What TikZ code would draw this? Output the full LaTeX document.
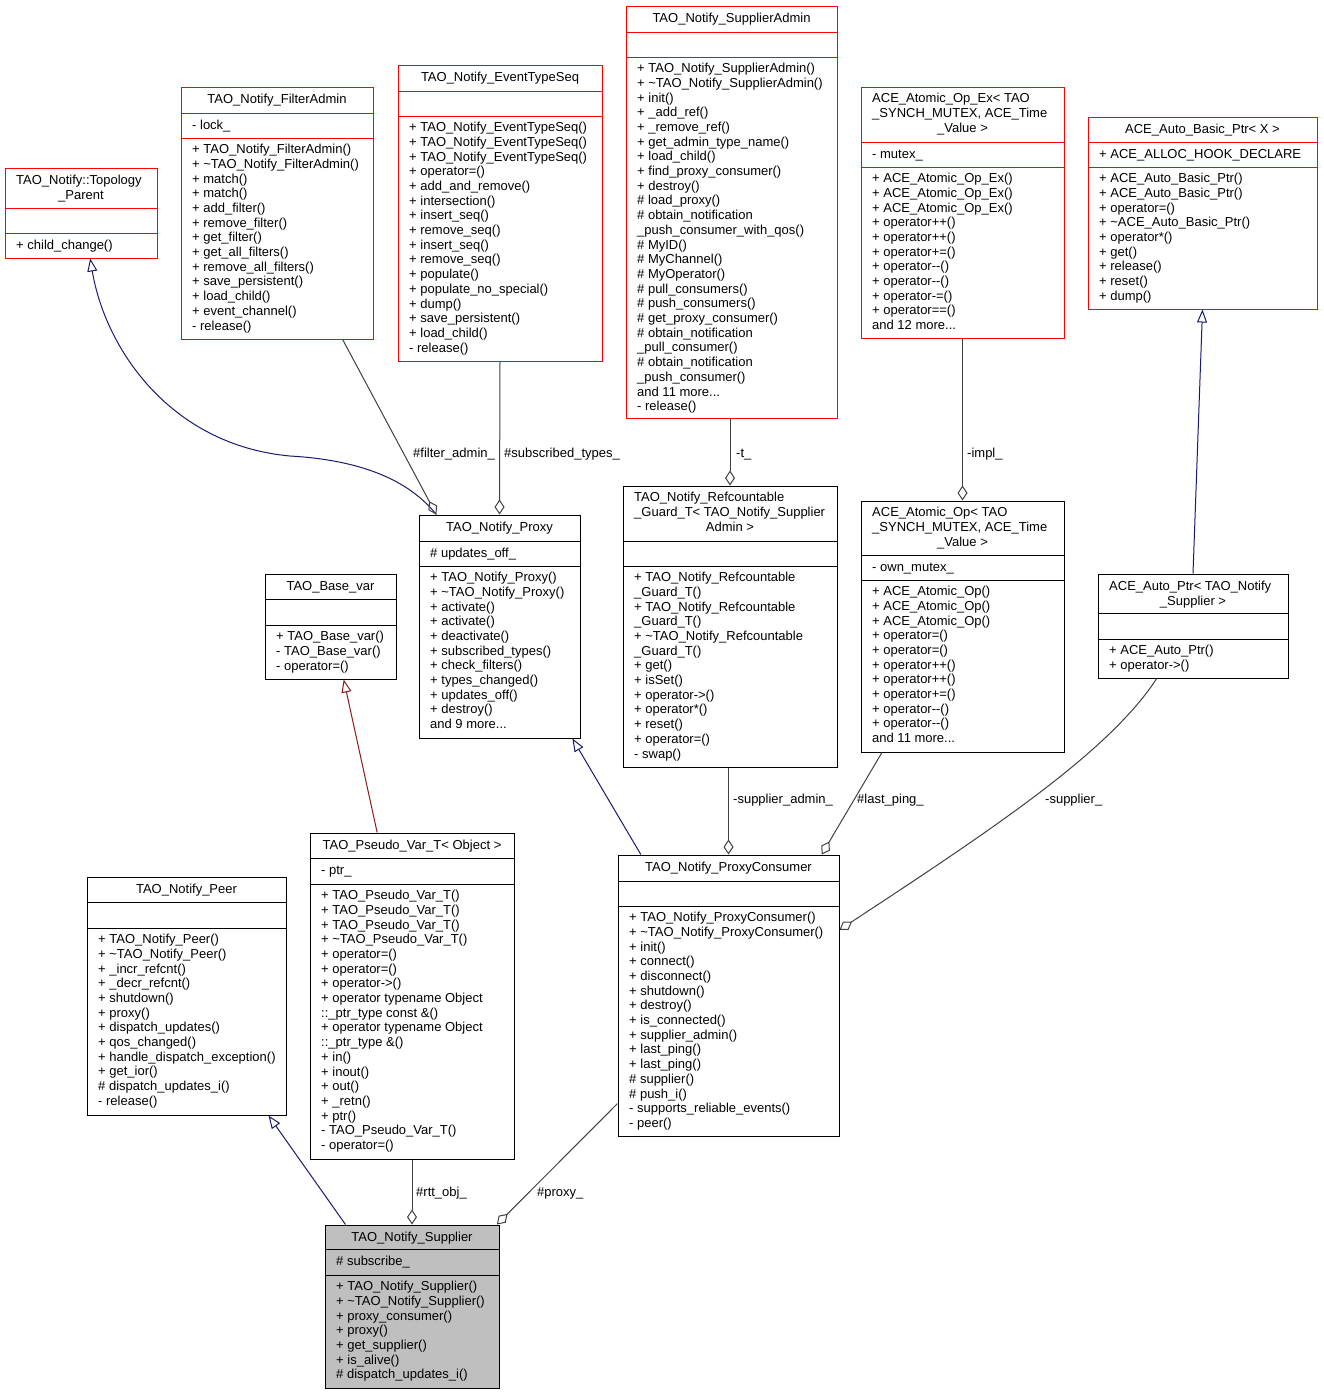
\documentclass[tikz,border=0pt]{standalone}
\usepackage{fontspec}
\setmainfont{Liberation Sans}
\usetikzlibrary{arrows.meta,calc,fit}
\definecolor{use-gray}{RGB}{64,64,64}
\definecolor{isa-blue}{RGB}{25,25,112}
\definecolor{priv-red}{RGB}{139,26,26}
\definecolor{current-gray}{RGB}{191,191,191}
\newcommand{\tildech}{\textasciitilde}
\tikzset{
	redbox/.style={draw=red, fill=white, line width=1pt},
	plainbox/.style={draw=black, fill=white, line width=1pt},
	currentbox/.style={draw=black, fill=current-gray, line width=1pt},
	cls/.style={font=\fontsize{13}{14.7}\selectfont, inner sep=0pt, align=left, anchor=north west, execute at begin node=\strut},
	ttl/.style={font=\fontsize{13}{14.7}\selectfont, inner sep=0pt, anchor=base},
	lbl/.style={font=\fontsize{13}{14.7}\selectfont, inner sep=0pt, anchor=base west},
	uses/.style={draw=use-gray, line width=1pt, -{Diamond[open, length=15pt, width=10pt]}},
	isa/.style={draw=isa-blue, line width=1pt, -{Triangle[open, length=13pt, width=10pt]}},
	isapriv/.style={draw=priv-red, line width=1pt, -{Triangle[open, length=13pt, width=10pt]}}
}
% box: style, name, left, right, top, first rule, second rule, bottom
\newcommand{\classBox}[8]{
	\node[fit={(#3,#5) (#4,#8)}, inner sep=0pt, #1] (#2) {};
	\draw[#1] (#3,#6) -- (#4,#6);
	\draw[#1] (#3,#7) -- (#4,#7);
	\coordinate (#2-t) at ({(#3+#4)/2},{#5+16.3});
	\coordinate (#2-tl) at ({#3+11},{#5+6});
	\coordinate (#2-a) at ({#3+11},{#6+6});
	\coordinate (#2-m) at ({#3+11},{#7+6});
}

\begin{document}
\begin{tikzpicture}[x=1pt, y=-1pt]
	\useasboundingbox (0,0) rectangle (1323,1395);
	% top row
	\classBox{redbox}{topo}{5}{157}{168}{208}{233}{258}
	\node[cls] (topo-ttl) at (topo-tl) {TAO\_Notify::Topology};
	\node[ttl] (topo-ttl2) at ($(topo-t)+(0,14.7)$) {\_Parent};
	\node[cls] (topo-ops) at (topo-m) {+ child\_change()};

	\classBox{redbox}{fadmin}{181}{373}{87}{113}{138}{339}
	\node[ttl] (fadmin-ttl) at (fadmin-t) {TAO\_Notify\_FilterAdmin};
	\node[cls] (fadmin-att) at (fadmin-a) {- lock\_};
	\node[cls] (fadmin-ops) at (fadmin-m) {+ TAO\_Notify\_FilterAdmin()\\+ \tildech TAO\_Notify\_FilterAdmin()\\+ match()\\+ match()\\+ add\_filter()\\+ remove\_filter()\\+ get\_filter()\\+ get\_all\_filters()\\+ remove\_all\_filters()\\+ save\_persistent()\\+ load\_child()\\+ event\_channel()\\- release()};

	\classBox{redbox}{etseq}{398}{602}{65}{91}{116}{361}
	\node[ttl] (etseq-ttl) at (etseq-t) {TAO\_Notify\_EventTypeSeq};
	\node[cls] (etseq-ops) at (etseq-m) {+ TAO\_Notify\_EventTypeSeq()\\+ TAO\_Notify\_EventTypeSeq()\\+ TAO\_Notify\_EventTypeSeq()\\+ operator=()\\+ add\_and\_remove()\\+ intersection()\\+ insert\_seq()\\+ remove\_seq()\\+ insert\_seq()\\+ remove\_seq()\\+ populate()\\+ populate\_no\_special()\\+ dump()\\+ save\_persistent()\\+ load\_child()\\- release()};

	\classBox{redbox}{sadmin}{626}{837}{6}{32}{57}{418}
	\node[ttl] (sadmin-ttl) at (sadmin-t) {TAO\_Notify\_SupplierAdmin};
	\node[cls] (sadmin-ops) at (sadmin-m) {+ TAO\_Notify\_SupplierAdmin()\\+ \tildech TAO\_Notify\_SupplierAdmin()\\+ init()\\+ \_add\_ref()\\+ \_remove\_ref()\\+ get\_admin\_type\_name()\\+ load\_child()\\+ find\_proxy\_consumer()\\+ destroy()\\\# load\_proxy()\\\# obtain\_notification\\\_push\_consumer\_with\_qos()\\\# MyID()\\\# MyChannel()\\\# MyOperator()\\\# pull\_consumers()\\\# push\_consumers()\\\# get\_proxy\_consumer()\\\# obtain\_notification\\\_pull\_consumer()\\\# obtain\_notification\\\_push\_consumer()\\and 11 more...\\- release()};

	\classBox{redbox}{opex}{861}{1064}{87}{142}{167}{338}
	\node[cls] (opex-ttl) at (opex-tl) {ACE\_Atomic\_Op\_Ex< TAO\\\_SYNCH\_MUTEX, ACE\_Time};
	\node[ttl] (opex-ttl2) at ($(opex-t)+(0,29.4)$) {\_Value >};
	\node[cls] (opex-att) at (opex-a) {- mutex\_};
	\node[cls] (opex-ops) at (opex-m) {+ ACE\_Atomic\_Op\_Ex()\\+ ACE\_Atomic\_Op\_Ex()\\+ ACE\_Atomic\_Op\_Ex()\\+ operator++()\\+ operator++()\\+ operator+=()\\+ operator-{}-()\\+ operator-{}-()\\+ operator-=()\\+ operator==()\\and 12 more...};

	\classBox{redbox}{basicptr}{1088}{1317}{117}{142}{167}{309}
	\node[ttl] (basicptr-ttl) at (basicptr-t) {ACE\_Auto\_Basic\_Ptr< X >};
	\node[cls] (basicptr-att) at (basicptr-a) {+ ACE\_ALLOC\_HOOK\_DECLARE};
	\node[cls] (basicptr-ops) at (basicptr-m) {+ ACE\_Auto\_Basic\_Ptr()\\+ ACE\_Auto\_Basic\_Ptr()\\+ operator=()\\+ \tildech ACE\_Auto\_Basic\_Ptr()\\+ operator*()\\+ get()\\+ release()\\+ reset()\\+ dump()};

	% middle row
	\classBox{plainbox}{proxy}{419}{580}{515}{541}{566}{738}
	\node[ttl] (proxy-ttl) at (proxy-t) {TAO\_Notify\_Proxy};
	\node[cls] (proxy-att) at (proxy-a) {\# updates\_off\_};
	\node[cls] (proxy-ops) at (proxy-m) {+ TAO\_Notify\_Proxy()\\+ \tildech TAO\_Notify\_Proxy()\\+ activate()\\+ activate()\\+ deactivate()\\+ subscribed\_types()\\+ check\_filters()\\+ types\_changed()\\+ updates\_off()\\+ destroy()\\and 9 more...};

	\classBox{plainbox}{rguard}{623}{837}{486}{541}{566}{767}
	\node[cls] (rguard-ttl) at (rguard-tl) {TAO\_Notify\_Refcountable\\\_Guard\_T< TAO\_Notify\_Supplier};
	\node[ttl] (rguard-ttl2) at ($(rguard-t)+(0,29.4)$) {Admin >};
	\node[cls] (rguard-ops) at (rguard-m) {+ TAO\_Notify\_Refcountable\\\_Guard\_T()\\+ TAO\_Notify\_Refcountable\\\_Guard\_T()\\+ \tildech TAO\_Notify\_Refcountable\\\_Guard\_T()\\+ get()\\+ isSet()\\+ operator->()\\+ operator*()\\+ reset()\\+ operator=()\\- swap()};

	\classBox{plainbox}{atop}{861}{1064}{501}{555}{580}{752}
	\node[cls] (atop-ttl) at (atop-tl) {ACE\_Atomic\_Op< TAO\\\_SYNCH\_MUTEX, ACE\_Time};
	\node[ttl] (atop-ttl2) at ($(atop-t)+(0,29.4)$) {\_Value >};
	\node[cls] (atop-att) at (atop-a) {- own\_mutex\_};
	\node[cls] (atop-ops) at (atop-m) {+ ACE\_Atomic\_Op()\\+ ACE\_Atomic\_Op()\\+ ACE\_Atomic\_Op()\\+ operator=()\\+ operator=()\\+ operator++()\\+ operator++()\\+ operator+=()\\+ operator-{}-()\\+ operator-{}-()\\and 11 more...};

	\classBox{plainbox}{autoptr}{1098}{1288}{574}{613}{639}{678}
	\node[cls] (autoptr-ttl) at (autoptr-tl) {ACE\_Auto\_Ptr< TAO\_Notify};
	\node[ttl] (autoptr-ttl2) at ($(autoptr-t)+(0,14.7)$) {\_Supplier >};
	\node[cls] (autoptr-ops) at (autoptr-m) {+ ACE\_Auto\_Ptr()\\+ operator->()};

	\classBox{plainbox}{basevar}{265}{396}{574}{599}{625}{679}
	\node[ttl] (basevar-ttl) at (basevar-t) {TAO\_Base\_var};
	\node[cls] (basevar-ops) at (basevar-m) {+ TAO\_Base\_var()\\- TAO\_Base\_var()\\- operator=()};

	% lower rows
	\classBox{plainbox}{pseudo}{310}{514}{833}{858}{884}{1159}
	\node[ttl] (pseudo-ttl) at (pseudo-t) {TAO\_Pseudo\_Var\_T< Object >};
	\node[cls] (pseudo-att) at (pseudo-a) {- ptr\_};
	\node[cls] (pseudo-ops) at (pseudo-m) {+ TAO\_Pseudo\_Var\_T()\\+ TAO\_Pseudo\_Var\_T()\\+ TAO\_Pseudo\_Var\_T()\\+ \tildech TAO\_Pseudo\_Var\_T()\\+ operator=()\\+ operator=()\\+ operator->()\\+ operator typename Object\\::\_ptr\_type const \&()\\+ operator typename Object\\::\_ptr\_type \&()\\+ in()\\+ inout()\\+ out()\\+ \_retn()\\+ ptr()\\- TAO\_Pseudo\_Var\_T()\\- operator=()};

	\classBox{plainbox}{peer}{87}{286}{877}{902}{928}{1115}
	\node[ttl] (peer-ttl) at (peer-t) {TAO\_Notify\_Peer};
	\node[cls] (peer-ops) at (peer-m) {+ TAO\_Notify\_Peer()\\+ \tildech TAO\_Notify\_Peer()\\+ \_incr\_refcnt()\\+ \_decr\_refcnt()\\+ shutdown()\\+ proxy()\\+ dispatch\_updates()\\+ qos\_changed()\\+ handle\_dispatch\_exception()\\+ get\_ior()\\\# dispatch\_updates\_i()\\- release()};

	\classBox{plainbox}{pcons}{618}{839}{855}{881}{906}{1136}
	\node[ttl] (pcons-ttl) at (pcons-t) {TAO\_Notify\_ProxyConsumer};
	\node[cls] (pcons-ops) at (pcons-m) {+ TAO\_Notify\_ProxyConsumer()\\+ \tildech TAO\_Notify\_ProxyConsumer()\\+ init()\\+ connect()\\+ disconnect()\\+ shutdown()\\+ destroy()\\+ is\_connected()\\+ supplier\_admin()\\+ last\_ping()\\+ last\_ping()\\\# supplier()\\\# push\_i()\\- supports\_reliable\_events()\\- peer()};

	\classBox{currentbox}{supplier}{325}{499}{1225}{1249}{1275}{1388}
	\node[ttl] (supplier-ttl) at (supplier-t) {TAO\_Notify\_Supplier};
	\node[cls] (supplier-att) at (supplier-a) {\# subscribe\_};
	\node[cls] (supplier-ops) at (supplier-m) {+ TAO\_Notify\_Supplier()\\+ \tildech TAO\_Notify\_Supplier()\\+ proxy\_consumer()\\+ proxy()\\+ get\_supplier()\\+ is\_alive()\\\# dispatch\_updates\_i()};

	% connectors
	\coordinate (topo-bend) at (290,456);
	\draw[isa] ($(proxy.north west)!0.11!(proxy.north east)$) .. controls +(-28,-35) and +(70,4) .. (topo-bend) .. controls +(-120,-11) and +(15,90) .. ($(topo.south west)!0.56!(topo.south east)$);
	\draw[uses] ($(fadmin.south west)!0.84!(fadmin.south east)$) -- ($(proxy.north west)!0.11!(proxy.north east)$);
	\draw[uses] (etseq.south) -- (proxy.north);
	\draw[uses] (rguard.north |- sadmin.south) -- (rguard.north);
	\draw[uses] (opex.south) -- (atop.north);
	\draw[isa] (autoptr.north) -- (basicptr.south);
	\draw[isapriv] ($(pseudo.north west)!0.33!(pseudo.north east)$) -- ($(basevar.south west)!0.6!(basevar.south east)$);
	\draw[isa] ($(pcons.north west)!0.105!(pcons.north east)$) -- ($(proxy.south west)!0.95!(proxy.south east)$);
	\draw[uses] (pcons.north |- rguard.south) -- (pcons.north);
	\draw[uses] ($(atop.south west)!0.105!(atop.south east)$) -- ($(pcons.north west)!0.92!(pcons.north east)$);
	\draw[uses] ($(autoptr.south west)!0.31!(autoptr.south east)$) .. controls +(-47,72) and +(160,-105) .. ($(pcons.north east)!0.267!(pcons.south east)$);
	\draw[isa] ($(supplier.north west)!0.12!(supplier.north east)$) -- ($(peer.south west)!0.91!(peer.south east)$);
	\draw[uses] (pseudo.south) -- (supplier.north);
	\draw[uses] ($(pcons.north west)!0.883!(pcons.south west)$) -- ($(supplier.north west)!0.985!(supplier.north east)$);

	% connector labels
	\node[lbl] (l-fadmin) at (413,457) {\#filter\_admin\_};
	\node[lbl] (l-types) at (504,457) {\#subscribed\_types\_};
	\node[lbl] (l-t) at (736,457) {-t\_};
	\node[lbl] (l-impl) at (967,457) {-impl\_};
	\node[lbl] (l-sadmin) at (733,803) {-supplier\_admin\_};
	\node[lbl] (l-ping) at (857,803) {\#last\_ping\_};
	\node[lbl] (l-supp) at (1045,803) {-supplier\_};
	\node[lbl] (l-rtt) at (416,1196) {\#rtt\_obj\_};
	\node[lbl] (l-proxy) at (537,1196) {\#proxy\_};
\end{tikzpicture}
\end{document}
